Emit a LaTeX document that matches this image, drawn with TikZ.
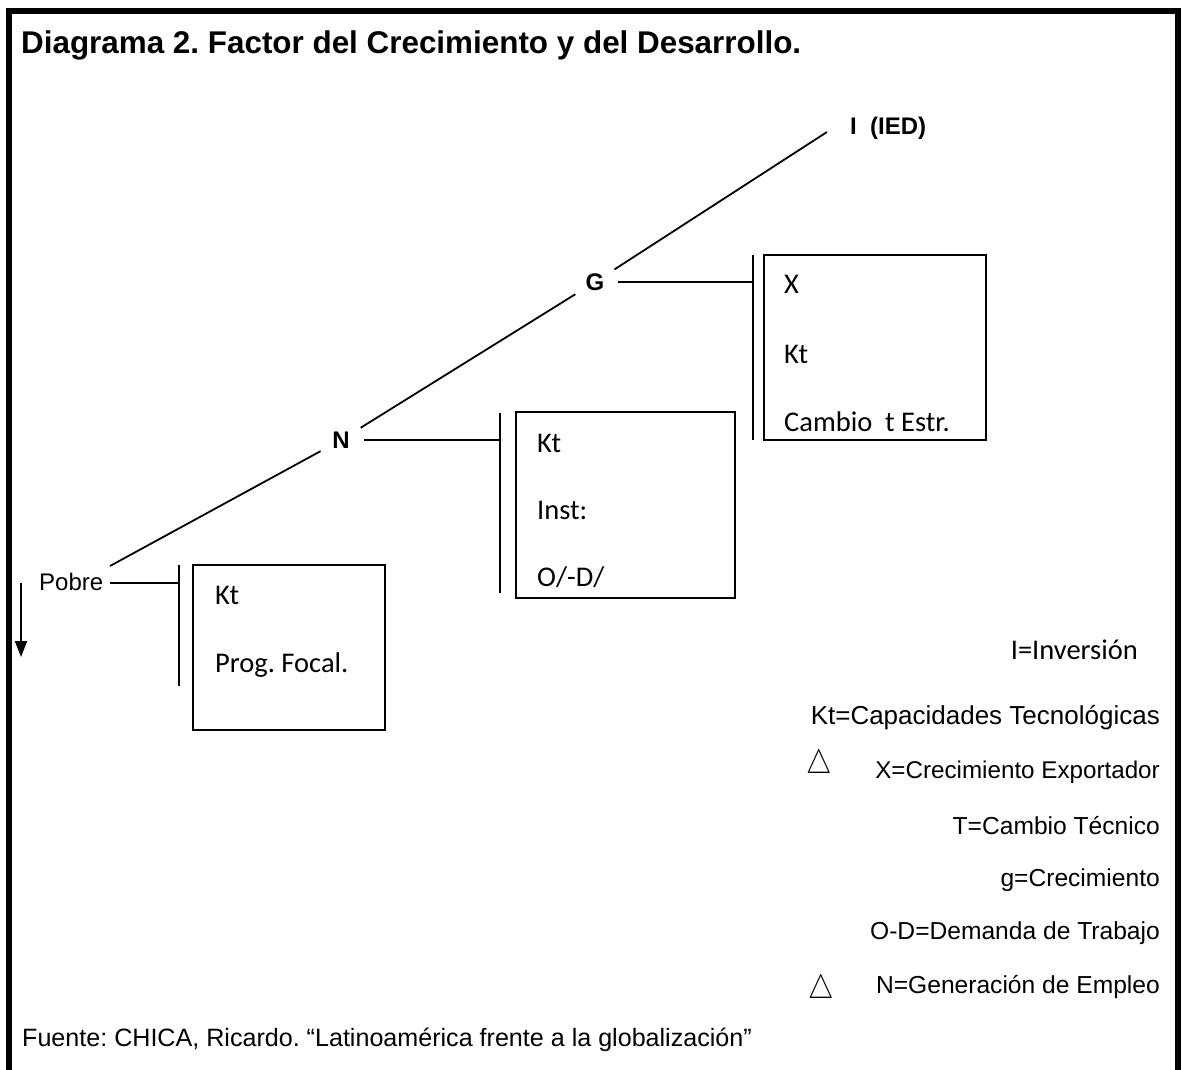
\documentclass[tikz,border=0pt]{standalone}
\usepackage{fontspec}
\setmainfont{Liberation Sans}
\newfontfamily\calib{Carlito}
\usetikzlibrary{arrows.meta}
\begin{document}
\frenchspacing
\begin{tikzpicture}[x=1pt,y=-1pt,
  frame/.style={line width=6pt},
  conn/.style={line width=1.8pt},
  bar/.style={line width=1.8pt},
  box/.style={draw,line width=1.8pt,fill=none},
  lab/.style={inner sep=0pt,font=\fontsize{24}{28}\selectfont},
  blab/.style={circle,inner sep=0pt,minimum size=46pt,font=\bfseries\fontsize{24}{28}\selectfont},
  btxt/.style={inner sep=0pt,anchor=west,font=\calib\fontsize{28.5}{32}\selectfont},
  leg/.style={inner sep=0pt,anchor=east,font=\fontsize{24.6}{30}\selectfont},
  tri/.style={inner sep=0pt,font=\fontsize{30}{32}\selectfont}
]
\useasboundingbox (0,0) rectangle (1183,1070);
\fill[white] (0,0) rectangle (1183,1070);
% frame
\draw[frame] (9,1070) -- (9,11) -- (1178,11) -- (1178,1070);
% title
\node[inner sep=0pt,anchor=west,font=\bfseries\fontsize{31.4}{36}\selectfont] (title) at (21,45) {Diagrama 2. Factor del Crecimiento y del Desarrollo.};
% labels on the diagonal
\node[lab,anchor=west] (pobre) at (39,582) {Pobre};
\node[blab] (N) at (341,440) {N};
\node[blab] (G) at (595,282) {G};
\node[inner sep=0pt,anchor=west,font=\bfseries\fontsize{24}{28}\selectfont] (ied) at (850,128) {I\ \ (IED)};
\coordinate (p0) at (110,566);
\coordinate (iend) at (827,132);
\draw[conn] (p0) -- (N);
\draw[conn] (N) -- (G);
\draw[conn] (G) -- (iend);
% bars
\coordinate (b1t) at (179,565); \coordinate (b1b) at (179,686); \coordinate (b1m) at (179,583);
\coordinate (b2t) at (500,413); \coordinate (b2b) at (500,593); \coordinate (b2m) at (500,440);
\coordinate (b3t) at (753,255); \coordinate (b3b) at (753,440); \coordinate (b3m) at (753,282);
\draw[bar] (b1t) -- (b1b);
\draw[bar] (b2t) -- (b2b);
\draw[bar] (b3t) -- (b3b);
\coordinate (p1) at (110,583);
\draw[conn] (p1) -- (b1m);
\draw[conn] (N.east |- b2m) -- (b2m);
\draw[conn] (G.east |- b3m) -- (b3m);
% boxes
\draw[box] (193,565) rectangle (385,730);
\draw[box] (516,412) rectangle (735,598);
\draw[box] (764,255) rectangle (986,440);
% box texts
\node[btxt] (k1) at (215,595) {Kt};
\node[btxt] (pf) at (215,665) {Prog. Focal.};
\node[btxt] (k2) at (537,443) {Kt};
\node[btxt] (ins) at (537,510) {Inst:};
\node[btxt] (od) at (537,577) {O/-D/};
\node[btxt] (x3) at (784,284) {X};
\node[btxt] (k3) at (784,354) {Kt};
\node[btxt] (ce) at (784,422) {Cambio\ \ t Estr.};
% arrow
\coordinate (a0) at (21,583);
\coordinate (a1) at (21,657);
\draw[line width=1.8pt,-{Triangle[length=16pt,width=12pt]}] (a0) -- (a1);
% legend
\node[inner sep=0pt,anchor=east,font=\calib\fontsize{28.5}{32}\selectfont] (l0) at (1138,650) {I=Inversión};
\node[inner sep=0pt,anchor=east,font=\fontsize{26}{30}\selectfont] (l1) at (1160,718) {Kt=Capacidades Tecnológicas};
\node[inner sep=0pt,anchor=east,font=\fontsize{24.2}{30}\selectfont] (l2) at (1160,772) {X=Crecimiento Exportador};
\node[leg] (l3) at (1160,826) {T=Cambio Técnico};
\node[leg] (l4) at (1160,880) {g=Crecimiento};
\node[leg] (l5) at (1160,933) {O-D=Demanda de Trabajo};
\node[leg] (l6) at (1160,987) {N=Generación de Empleo};
\node[tri] (t1) at (819,765) {\scalebox{1.15}[1.35]{$\triangle$}};
\node[tri] (t2) at (821,990) {\scalebox{1.15}[1.35]{$\triangle$}};
% source
\node[inner sep=0pt,anchor=west,font=\fontsize{25.1}{28}\selectfont] (src) at (22,1040) {Fuente: CHICA, Ricardo. “Latinoamérica frente a la globalización”};
\end{tikzpicture}
\end{document}
